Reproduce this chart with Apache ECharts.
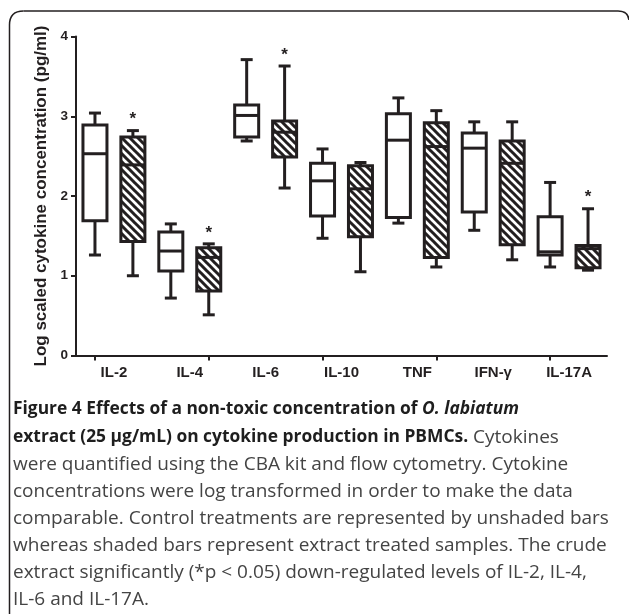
<!DOCTYPE html>
<html>
<head>
<meta charset="utf-8">
<script src="https://cdn.jsdelivr.net/npm/echarts@6/dist/echarts.min.js"></script>
<style>
  html, body { margin: 0; padding: 0; background: #fff; }
  #chart { width: 629px; height: 614px; }
</style>
</head>
<body>
<div id="chart"></div>
<script>
// cytokines on the x axis
var categories = ['IL-2', 'IL-4', 'IL-6', 'IL-10', 'TNF', 'IFN-γ', 'IL-17A'];
// [min, Q1, median, Q3, max]
var control = [
  [1.26, 1.69, 2.53, 2.89, 3.04],
  [0.72, 1.06, 1.31, 1.55, 1.65],
  [2.69, 2.74, 3.01, 3.14, 3.71],
  [1.47, 1.75, 2.19, 2.41, 2.59],
  [1.66, 1.73, 2.70, 3.03, 3.23],
  [1.57, 1.80, 2.60, 2.79, 2.93],
  [1.11, 1.26, 1.30, 1.74, 2.17]
];
var extract = [
  [1.00, 1.43, 2.39, 2.74, 2.82],
  [0.51, 0.81, 1.23, 1.35, 1.40],
  [2.10, 2.49, 2.80, 2.94, 3.63],
  [1.05, 1.49, 2.09, 2.38, 2.42],
  [1.11, 1.23, 2.62, 2.92, 3.07],
  [1.20, 1.39, 2.41, 2.69, 2.93],
  [1.07, 1.10, 1.34, 1.38, 1.84]
];
// * p < 0.05 for the extract
var significant = [true, true, true, false, false, false, true];
var yTicks = [0, 1, 2, 3, 4];

var ink = '#231f20';
var arial = '"Liberation Sans", Arial, sans-serif';

// hatch pattern for extract boxes
var P = 8;
var hatch = document.createElement('canvas');
hatch.width = P;
hatch.height = P;
var hc = hatch.getContext('2d');
hc.fillStyle = '#fff';
hc.fillRect(0, 0, P, P);
hc.strokeStyle = ink;
hc.lineWidth = 3;
hc.beginPath();
hc.moveTo(-1, -1); hc.lineTo(P + 1, P + 1);
hc.moveTo(-1, P - 1); hc.lineTo(1, P + 1);
hc.moveTo(P - 1, -1); hc.lineTo(P + 1, 1);
hc.stroke();

var slots = [];
var boxData = [];
categories.forEach(function (c, i) {
  slots.push(c + ' control', c + ' extract');
  boxData.push([2 * i].concat(control[i], [0, 0]));
  boxData.push([2 * i + 1].concat(extract[i], [significant[i] ? 1 : 0, 1]));
});

function renderItem(params, api) {
  var x = api.value(0);
  var lo = api.coord([x, api.value(1)]);
  var q1 = api.coord([x, api.value(2)]);
  var md = api.coord([x, api.value(3)]);
  var q3 = api.coord([x, api.value(4)]);
  var hi = api.coord([x, api.value(5)]);
  var cx = lo[0];
  var bw = 24, cw = 12;
  var line = { stroke: ink, lineWidth: 3 };
  var kids = [
    { type: 'line', shape: { x1: cx, y1: hi[1], x2: cx, y2: q3[1] }, style: line },
    { type: 'line', shape: { x1: cx, y1: q1[1], x2: cx, y2: lo[1] }, style: line },
    { type: 'line', shape: { x1: cx - cw / 2, y1: hi[1], x2: cx + cw / 2, y2: hi[1] }, style: line },
    { type: 'line', shape: { x1: cx - cw / 2, y1: lo[1], x2: cx + cw / 2, y2: lo[1] }, style: line },
    {
      type: 'rect',
      shape: { x: cx - bw / 2, y: q3[1], width: bw, height: q1[1] - q3[1] },
      style: {
        fill: api.value(7) ? { image: hatch, repeat: 'repeat' } : '#fff',
        stroke: ink, lineWidth: 3
      }
    },
    { type: 'line', shape: { x1: cx - bw / 2, y1: md[1], x2: cx + bw / 2, y2: md[1] }, style: line }
  ];
  if (api.value(6)) {
    kids.push({
      type: 'text',
      style: {
        text: '*', x: cx, y: hi[1] - 11, align: 'center', verticalAlign: 'middle',
        font: 'bold 17px ' + arial, fill: ink
      }
    });
  }
  return { type: 'group', children: kids };
}

var chart = echarts.init(document.getElementById('chart'), null, { renderer: 'canvas' });

var capFont = '"Open Sans", sans-serif';
var captionRich = {
  b: { fontFamily: capFont, fontWeight: 'bold', fontSize: 17.4, fill: '#1e1e1e' },
  bi: { fontFamily: capFont, fontWeight: 'bold', fontStyle: 'italic', fontSize: 17.4, fill: '#1e1e1e' },
  r: { fontFamily: capFont, fontSize: 19, fill: '#444' }
};
var captionLines = [
  '{b|Figure 4 Effects of a non-toxic concentration of }{bi|O. labiatum}',
  '{b|extract (25 µg/mL) on cytokine production in PBMCs.}{r| Cytokines}',
  '{r|were quantified using the CBA kit and flow cytometry. Cytokine}',
  '{r|concentrations were log transformed in order to make the data}',
  '{r|comparable. Control treatments are represented by unshaded bars}',
  '{r|whereas shaded bars represent extract treated samples. The crude}',
  '{r|extract significantly (*p < 0.05) down-regulated levels of IL-2, IL-4,}',
  '{r|IL-6 and IL-17A.}'
];
var frame = { fill: null, stroke: ink, lineWidth: 1.5 };
var graphics = [
  { type: 'polyline', shape: { points: [[9.5, 614], [9.5, 25]] }, style: frame },
  { type: 'bezierCurve', shape: { x1: 9.5, y1: 25, cpx1: 9.5, cpy1: 11, x2: 23.5, y2: 11 }, style: frame },
  { type: 'polyline', shape: { points: [[23.5, 11], [618, 11]] }, style: frame },
  { type: 'bezierCurve', shape: { x1: 618, y1: 11, cpx1: 628, cpy1: 11, x2: 629, y2: 20 }, style: frame }
];
captionLines.forEach(function (t, k) {
  graphics.push({
    type: 'text',
    left: 13,
    top: 401 + 27 * k,
    style: { text: t, rich: captionRich, verticalAlign: 'top' }
  });
});

var option = {
  animation: false,
  backgroundColor: '#fff',
  grid: { left: 76, right: 22, top: 36.5, bottom: 258.5, containLabel: false, outerBoundsMode: 'none' },
  xAxis: [{
    type: 'category',
    data: slots,
    position: 'bottom',
    axisLine: { lineStyle: { color: ink, width: 2 } },
    axisTick: { show: true, alignWithLabel: true, length: 5, lineStyle: { color: ink, width: 2 } },
    axisLabel: { show: false },
    splitLine: { show: false }
  }, {
    type: 'category',
    data: categories,
    position: 'bottom',
    axisLine: { show: false },
    axisTick: { show: false },
    axisLabel: {
      interval: 0, margin: 10, color: ink,
      fontFamily: arial, fontWeight: 'bold', fontSize: 15
    },
    splitLine: { show: false }
  }],
  yAxis: {
    type: 'value',
    min: yTicks[0],
    max: yTicks[yTicks.length - 1],
    interval: 1,
    name: 'Log scaled cytokine concentration (pg/ml)',
    nameLocation: 'middle',
    nameGap: 25,
    nameTextStyle: {
      color: ink, fontFamily: arial, fontWeight: 'bold', fontSize: 17
    },
    axisLine: { show: true, lineStyle: { color: ink, width: 2 } },
    axisTick: { show: true, length: 5, lineStyle: { color: ink, width: 2 } },
    axisLabel: {
      margin: 8, color: ink,
      fontFamily: arial, fontWeight: 'bold', fontSize: 13.5
    },
    splitLine: { show: false }
  },
  series: [{
    type: 'custom',
    renderItem: renderItem,
    xAxisIndex: 0,
    encode: { x: 0, y: [1, 2, 3, 4, 5] },
    data: boxData
  }],
  graphic: graphics
};

chart.setOption(option);
</script>
</body>
</html>
